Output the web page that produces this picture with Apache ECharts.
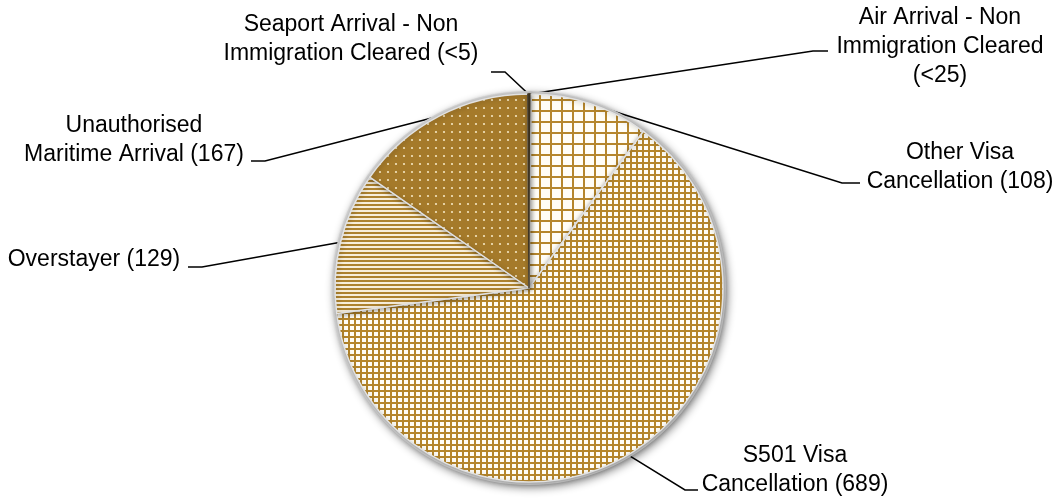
<!DOCTYPE html>
<html>
<head>
<meta charset="utf-8">
<script src="https://cdn.jsdelivr.net/npm/echarts@6/dist/echarts.min.js"></script>
<style>
html,body{margin:0;padding:0;background:#fff;}
#chart{width:1058px;height:499px;}
</style>
</head>
<body>
<div id="chart"></div>
<script>
// ---- data ----
const categories = [
  'Air Arrival - Non Immigration Cleared',
  'Other Visa Cancellation',
  'S501 Visa Cancellation',
  'Overstayer',
  'Unauthorised Maritime Arrival',
  'Seaport Arrival - Non Immigration Cleared'
];
const values = [2, 108, 689, 129, 167, 1];
const valueLabels = ['<25', '108', '689', '129', '167', '<5'];
const labelTexts = [
  'Air Arrival - Non\nImmigration Cleared\n(<25)',
  'Other Visa\nCancellation (108)',
  'S501 Visa\nCancellation (689)',
  'Overstayer (129)',
  'Unauthorised\nMaritime Arrival (167)',
  'Seaport Arrival - Non\nImmigration Cleared (<5)'
];

// ---- layout / style ----
const CX = 529, CY = 288, R = 194;
const labelLayouts = [
  {x: 940, y: 47,  elbow: [813, 51],  end: [828, 51]},
  {x: 960, y: 167, elbow: [842, 183], end: [860, 183]},
  {x: 795, y: 470, elbow: [685, 490], end: [698, 490]},
  {x: 94,  y: 260, elbow: [202, 267], end: [188, 267]},
  {x: 134, y: 140, elbow: [265, 161], end: [251, 161]},
  {x: 351, y: 39,  elbow: [505, 72],  end: [491, 72]}
];
const GOLD = '#B5862C';

function makeCanvas(w, h, draw) {
  const c = document.createElement('canvas');
  c.width = w; c.height = h;
  draw(c.getContext('2d'));
  return c;
}
const gridLarge = makeCanvas(11, 11, g => {
  g.fillStyle = '#fffdf6'; g.fillRect(0, 0, 11, 11);
  g.fillStyle = GOLD; g.fillRect(0, 0, 11, 2); g.fillRect(0, 0, 2, 11);
});
const gridSmall = makeCanvas(6, 6, g => {
  g.fillStyle = '#fffdf6'; g.fillRect(0, 0, 6, 6);
  g.fillStyle = GOLD; g.fillRect(0, 0, 6, 2); g.fillRect(0, 0, 2, 6);
});
const stripes = makeCanvas(4, 4, g => {
  g.fillStyle = '#f7eedb'; g.fillRect(0, 0, 4, 4);
  g.fillStyle = '#ad822f'; g.fillRect(0, 0, 4, 2);
});
const dots = makeCanvas(8, 8, g => {
  g.fillStyle = '#a57a2a'; g.fillRect(0, 0, 8, 8);
  g.fillStyle = '#f4e6c0'; g.beginPath(); g.arc(4, 4, 1.1, 0, Math.PI * 2); g.fill();
});
const fills = [
  '#3f3522',
  {image: gridLarge, repeat: 'repeat'},
  {image: gridSmall, repeat: 'repeat'},
  {image: stripes, repeat: 'repeat'},
  {image: dots, repeat: 'repeat'},
  '#3f3522'
];
const borders = ['#3f3522', '#e2e2e2', '#e2e2e2', '#e2e2e2', '#e2e2e2', '#3f3522'];

const total = values.reduce((a, b) => a + b, 0);
const cum = [];
values.reduce((acc, v, i) => { cum[i] = acc; return acc + v; }, 0);

const chart = echarts.init(document.getElementById('chart'), null, {renderer: 'canvas'});
chart.setOption({
  animation: false,
  backgroundColor: '#fff',
  series: [{
    type: 'pie',
    center: [CX, CY],
    radius: [0, R + 3],
    silent: true,
    label: {show: false},
    labelLine: {show: false},
    data: [{value: 1, itemStyle: {color: '#d6d6d6', shadowBlur: 8, shadowColor: 'rgba(0,0,0,0.45)', shadowOffsetX: 2, shadowOffsetY: 3}}]
  }, {
    type: 'pie',
    center: [CX, CY],
    radius: [0, R],
    startAngle: 90,
    clockwise: true,
    avoidLabelOverlap: false,
    data: categories.map((c, i) => ({
      name: c,
      value: values[i],
      itemStyle: {color: fills[i], borderColor: borders[i]}
    })),
    itemStyle: {
      borderWidth: 1.5,
      shadowBlur: 5,
      shadowColor: 'rgba(0,0,0,0.3)',
      shadowOffsetX: 1,
      shadowOffsetY: 1
    },
    label: {
      show: true,
      position: 'outside',
      formatter: p => labelTexts[p.dataIndex],
      color: '#000',
      fontFamily: 'Liberation Sans, Arial, sans-serif',
      fontSize: 23,
      lineHeight: 29,
      align: 'center'
    },
    labelLine: {
      show: true,
      length: 10,
      length2: 10,
      lineStyle: {color: '#000', width: 1.5}
    },
    labelLayout: function (params) {
      const i = params.dataIndex;
      const L = labelLayouts[i];
      let anchor;
      if (params.labelLinePoints && params.labelLinePoints[0]) {
        anchor = params.labelLinePoints[0];
      } else {
        const mid = (cum[i] + values[i] / 2) / total * Math.PI * 2;
        anchor = [CX + R * Math.sin(mid), CY - R * Math.cos(mid)];
      }
      return {
        x: L.x, y: L.y,
        align: 'center', verticalAlign: 'middle',
        labelLinePoints: [anchor, L.elbow, L.end]
      };
    }
  }]
});
</script>
</body>
</html>
